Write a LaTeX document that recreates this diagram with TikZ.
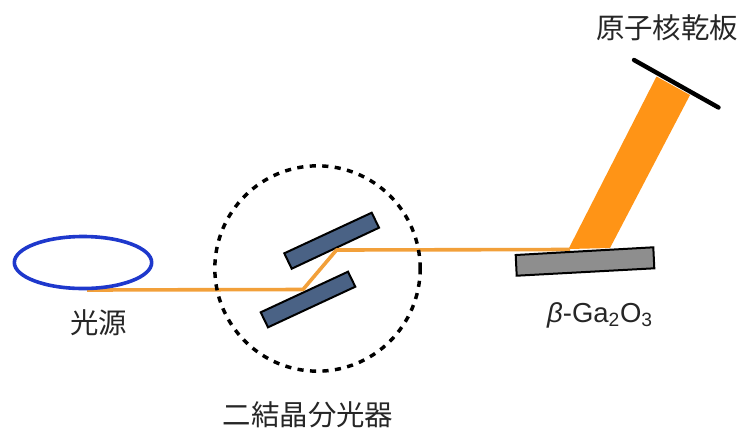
\documentclass[tikz,border=0pt]{standalone}
\usepackage{fontspec}
\setmainfont{Liberation Sans}
\newfontfamily\cjk{Noto Sans CJK JP}
\usetikzlibrary{shapes.geometric}
\definecolor{beamorange}{HTML}{F2A03A}
\definecolor{bandorange}{HTML}{FF9416}
\definecolor{plateblue}{HTML}{4A6285}
\definecolor{plategray}{HTML}{8E8E8E}
\definecolor{ringblue}{HTML}{1E38CC}
\definecolor{labelink}{HTML}{262626}
\tikzset{
  x=0.75pt, y=-0.75pt,
  beam/.style={draw=beamorange, line width=2.7pt, line join=round},
  plate/.style={draw=black, line width=1.5pt, fill=plateblue, line join=miter},
  sample/.style={draw=black, line width=1.5pt, fill=plategray},
  cjklabel/.style={font=\cjk\fontsize{21.3pt}{24pt}\selectfont, text=labelink, inner sep=0pt},
  latinlabel/.style={font=\fontsize{20.6pt}{24pt}\selectfont, text=labelink, inner sep=0pt},
}
\begin{document}
\begin{tikzpicture}
\useasboundingbox (0,0) rectangle (739,430);
\coordinate (srcOut) at (87,290);
\coordinate (hitA) at (303,289.5);
\coordinate (hitB) at (336.5,250);
\coordinate (hitC) at (570,249.5);
\coordinate (bandA) at (568.5,249);
\coordinate (bandB) at (610,248);
\coordinate (bandC) at (690,95);
\coordinate (bandD) at (656.5,76.5);
\coordinate (plateEndA) at (634,60);
\coordinate (plateEndB) at (718.5,107.5);
% orange band
\fill[bandorange] (bandA) -- (bandB) -- (bandC) -- (bandD) -- cycle;
% crystals
\draw[plate] (284.3,253.3) -- (371.7,212.7) -- (379,227.7) -- (291.7,268.7) -- cycle;
\draw[plate] (260.7,312.3) -- (348,271.7) -- (355.3,286.7) -- (268,327.3) -- cycle;
% thin beam
\draw[beam] (srcOut) -- (hitA) -- (hitB) -- (hitC);
% source ring
\node[draw=ringblue, line width=2.7pt, ellipse, minimum width=103pt, minimum height=39pt, inner sep=0pt] (source) at (83,262.5) {};
% monochromator circle
\node[draw=black, line width=2.6pt, dash pattern=on 4.6pt off 4.8pt, circle, minimum size=154pt, inner sep=0pt] (mono) at (317.5,268.5) {};
% sample and nuclear target
\draw[sample] (515.7,255) -- (653.3,247.3) -- (654.3,268.3) -- (516.7,275.7) -- cycle;
\draw[black, line width=3.3pt, line cap=round] (plateEndA) -- (plateEndB);
% labels
\node[cjklabel] (lblTarget) at (667,28) {原子核乾板};
\node[cjklabel] (lblSource) at (98.5,323) {光源};
\node[cjklabel] (lblMono) at (308,415) {二結晶分光器};
\node[latinlabel] (lblSample) at (600,315) {{\itshape β}-Ga\textsubscript{2}O\textsubscript{3}};
\end{tikzpicture}
\end{document}
